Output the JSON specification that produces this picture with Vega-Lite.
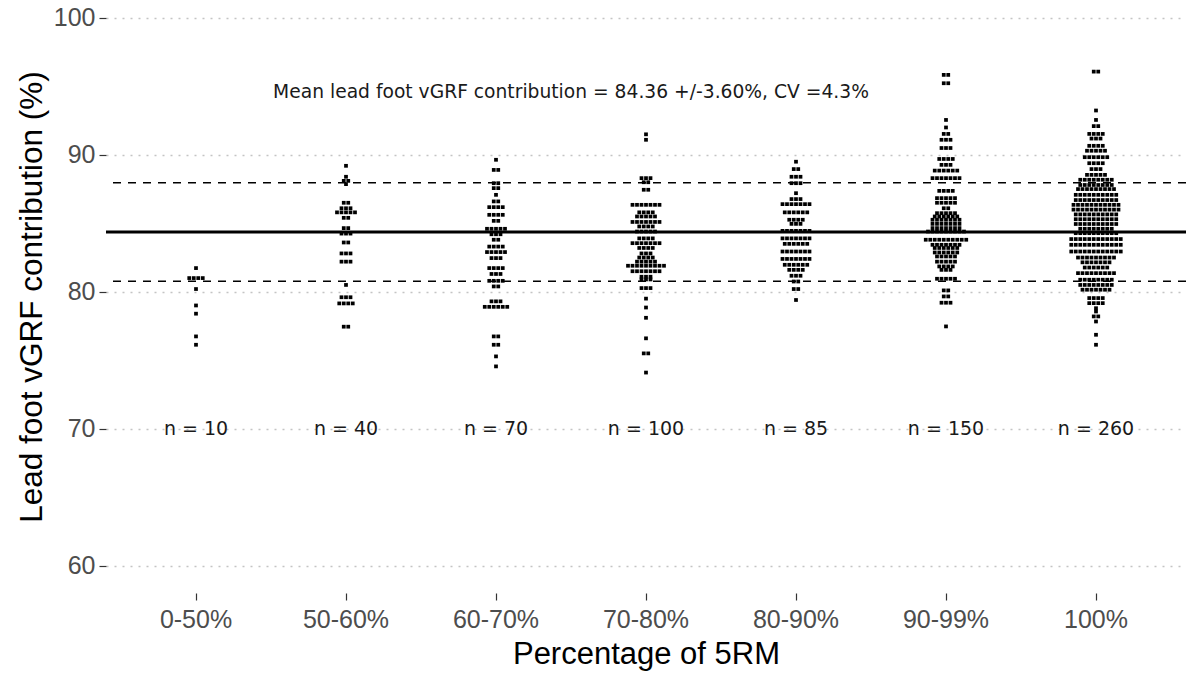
{
"$schema":"https://vega.github.io/schema/vega-lite/v6.json",
"width":1080,"height":593,
"autosize":"none",
"padding":{"left":106,"top":0,"right":0,"bottom":89},
"background":"white",
"config":{"view":{"stroke":null},"font":"Liberation Sans"},
"datasets":{"pts":[
{"g":"0-50%","v":81.73},{"g":"0-50%","v":81.0},{"g":"0-50%","v":81.0},{"g":"0-50%","v":81.0},{"g":"0-50%","v":81.0},{"g":"0-50%","v":80.2},{"g":"0-50%","v":79.0},{"g":"0-50%","v":78.4},{"g":"0-50%","v":76.74},{"g":"0-50%","v":76.13},
{"g":"50-60%","v":89.2},{"g":"50-60%","v":88.4},{"g":"50-60%","v":88.1},{"g":"50-60%","v":88.1},{"g":"50-60%","v":87.86},{"g":"50-60%","v":86.5},{"g":"50-60%","v":86.5},{"g":"50-60%","v":86.1},{"g":"50-60%","v":86.1},{"g":"50-60%","v":86.1},{"g":"50-60%","v":85.8},{"g":"50-60%","v":85.8},{"g":"50-60%","v":85.8},{"g":"50-60%","v":85.8},{"g":"50-60%","v":85.8},{"g":"50-60%","v":85.4},{"g":"50-60%","v":85.4},{"g":"50-60%","v":84.65},{"g":"50-60%","v":84.65},{"g":"50-60%","v":84.25},{"g":"50-60%","v":84.25},{"g":"50-60%","v":84.25},{"g":"50-60%","v":83.6},{"g":"50-60%","v":83.6},{"g":"50-60%","v":82.8},{"g":"50-60%","v":82.8},{"g":"50-60%","v":82.8},{"g":"50-60%","v":82.2},{"g":"50-60%","v":82.2},{"g":"50-60%","v":82.2},{"g":"50-60%","v":80.5},{"g":"50-60%","v":79.6},{"g":"50-60%","v":79.6},{"g":"50-60%","v":79.6},{"g":"50-60%","v":79.15},{"g":"50-60%","v":79.15},{"g":"50-60%","v":79.15},{"g":"50-60%","v":79.15},{"g":"50-60%","v":77.45},{"g":"50-60%","v":77.45},
{"g":"60-70%","v":89.64},{"g":"60-70%","v":88.9},{"g":"60-70%","v":88.9},{"g":"60-70%","v":87.93},{"g":"60-70%","v":87.93},{"g":"60-70%","v":87.57},{"g":"60-70%","v":87.57},{"g":"60-70%","v":87.08},{"g":"60-70%","v":86.6},{"g":"60-70%","v":86.6},{"g":"60-70%","v":86.18},{"g":"60-70%","v":86.18},{"g":"60-70%","v":86.18},{"g":"60-70%","v":86.18},{"g":"60-70%","v":85.62},{"g":"60-70%","v":85.62},{"g":"60-70%","v":85.62},{"g":"60-70%","v":85.62},{"g":"60-70%","v":85.18},{"g":"60-70%","v":85.18},{"g":"60-70%","v":84.6},{"g":"60-70%","v":84.6},{"g":"60-70%","v":84.6},{"g":"60-70%","v":84.6},{"g":"60-70%","v":84.6},{"g":"60-70%","v":84.2},{"g":"60-70%","v":84.2},{"g":"60-70%","v":84.2},{"g":"60-70%","v":83.8},{"g":"60-70%","v":83.8},{"g":"60-70%","v":83.3},{"g":"60-70%","v":83.3},{"g":"60-70%","v":83.3},{"g":"60-70%","v":83.3},{"g":"60-70%","v":82.9},{"g":"60-70%","v":82.9},{"g":"60-70%","v":82.9},{"g":"60-70%","v":82.9},{"g":"60-70%","v":82.9},{"g":"60-70%","v":82.46},{"g":"60-70%","v":82.46},{"g":"60-70%","v":82.46},{"g":"60-70%","v":81.73},{"g":"60-70%","v":81.73},{"g":"60-70%","v":81.73},{"g":"60-70%","v":81.73},{"g":"60-70%","v":81.3},{"g":"60-70%","v":81.3},{"g":"60-70%","v":81.3},{"g":"60-70%","v":80.8},{"g":"60-70%","v":80.8},{"g":"60-70%","v":80.8},{"g":"60-70%","v":80.8},{"g":"60-70%","v":80.39},{"g":"60-70%","v":80.39},{"g":"60-70%","v":79.3},{"g":"60-70%","v":79.3},{"g":"60-70%","v":79.3},{"g":"60-70%","v":78.9},{"g":"60-70%","v":78.9},{"g":"60-70%","v":78.9},{"g":"60-70%","v":78.9},{"g":"60-70%","v":78.9},{"g":"60-70%","v":78.9},{"g":"60-70%","v":76.74},{"g":"60-70%","v":76.74},{"g":"60-70%","v":76.13},{"g":"60-70%","v":76.13},{"g":"60-70%","v":75.28},{"g":"60-70%","v":74.55},
{"g":"70-80%","v":91.5},{"g":"70-80%","v":91.1},{"g":"70-80%","v":88.3},{"g":"70-80%","v":88.3},{"g":"70-80%","v":88.3},{"g":"70-80%","v":88.0},{"g":"70-80%","v":88.0},{"g":"70-80%","v":87.45},{"g":"70-80%","v":87.45},{"g":"70-80%","v":86.35},{"g":"70-80%","v":86.35},{"g":"70-80%","v":86.35},{"g":"70-80%","v":86.35},{"g":"70-80%","v":86.35},{"g":"70-80%","v":86.35},{"g":"70-80%","v":86.35},{"g":"70-80%","v":85.8},{"g":"70-80%","v":85.8},{"g":"70-80%","v":85.8},{"g":"70-80%","v":85.8},{"g":"70-80%","v":85.5},{"g":"70-80%","v":85.5},{"g":"70-80%","v":85.5},{"g":"70-80%","v":85.5},{"g":"70-80%","v":85.5},{"g":"70-80%","v":85.1},{"g":"70-80%","v":85.1},{"g":"70-80%","v":85.1},{"g":"70-80%","v":85.1},{"g":"70-80%","v":85.1},{"g":"70-80%","v":85.1},{"g":"70-80%","v":85.1},{"g":"70-80%","v":84.77},{"g":"70-80%","v":84.77},{"g":"70-80%","v":84.77},{"g":"70-80%","v":84.77},{"g":"70-80%","v":84.4},{"g":"70-80%","v":84.4},{"g":"70-80%","v":84.4},{"g":"70-80%","v":84.4},{"g":"70-80%","v":84.4},{"g":"70-80%","v":83.9},{"g":"70-80%","v":83.9},{"g":"70-80%","v":83.9},{"g":"70-80%","v":83.9},{"g":"70-80%","v":83.55},{"g":"70-80%","v":83.55},{"g":"70-80%","v":83.55},{"g":"70-80%","v":83.55},{"g":"70-80%","v":83.55},{"g":"70-80%","v":83.55},{"g":"70-80%","v":83.55},{"g":"70-80%","v":83.2},{"g":"70-80%","v":83.2},{"g":"70-80%","v":83.2},{"g":"70-80%","v":83.2},{"g":"70-80%","v":82.8},{"g":"70-80%","v":82.8},{"g":"70-80%","v":82.8},{"g":"70-80%","v":82.5},{"g":"70-80%","v":82.5},{"g":"70-80%","v":82.5},{"g":"70-80%","v":82.5},{"g":"70-80%","v":82.2},{"g":"70-80%","v":82.2},{"g":"70-80%","v":82.2},{"g":"70-80%","v":82.2},{"g":"70-80%","v":82.2},{"g":"70-80%","v":81.9},{"g":"70-80%","v":81.9},{"g":"70-80%","v":81.9},{"g":"70-80%","v":81.9},{"g":"70-80%","v":81.9},{"g":"70-80%","v":81.9},{"g":"70-80%","v":81.9},{"g":"70-80%","v":81.9},{"g":"70-80%","v":81.9},{"g":"70-80%","v":81.5},{"g":"70-80%","v":81.5},{"g":"70-80%","v":81.5},{"g":"70-80%","v":81.5},{"g":"70-80%","v":81.5},{"g":"70-80%","v":81.5},{"g":"70-80%","v":81.5},{"g":"70-80%","v":81.1},{"g":"70-80%","v":81.1},{"g":"70-80%","v":81.1},{"g":"70-80%","v":80.9},{"g":"70-80%","v":80.9},{"g":"70-80%","v":80.9},{"g":"70-80%","v":80.27},{"g":"70-80%","v":80.27},{"g":"70-80%","v":80.27},{"g":"70-80%","v":79.5},{"g":"70-80%","v":78.85},{"g":"70-80%","v":78.1},{"g":"70-80%","v":76.6},{"g":"70-80%","v":75.5},{"g":"70-80%","v":75.5},{"g":"70-80%","v":74.1},
{"g":"80-90%","v":89.5},{"g":"80-90%","v":88.96},{"g":"80-90%","v":88.96},{"g":"80-90%","v":88.4},{"g":"80-90%","v":88.4},{"g":"80-90%","v":88.4},{"g":"80-90%","v":87.93},{"g":"80-90%","v":87.93},{"g":"80-90%","v":87.93},{"g":"80-90%","v":87.2},{"g":"80-90%","v":86.77},{"g":"80-90%","v":86.77},{"g":"80-90%","v":86.77},{"g":"80-90%","v":86.4},{"g":"80-90%","v":86.4},{"g":"80-90%","v":86.4},{"g":"80-90%","v":86.4},{"g":"80-90%","v":86.4},{"g":"80-90%","v":86.4},{"g":"80-90%","v":86.4},{"g":"80-90%","v":85.8},{"g":"80-90%","v":85.8},{"g":"80-90%","v":85.8},{"g":"80-90%","v":85.8},{"g":"80-90%","v":85.8},{"g":"80-90%","v":85.8},{"g":"80-90%","v":85.26},{"g":"80-90%","v":85.26},{"g":"80-90%","v":85.26},{"g":"80-90%","v":85.26},{"g":"80-90%","v":84.96},{"g":"80-90%","v":84.96},{"g":"80-90%","v":84.96},{"g":"80-90%","v":84.45},{"g":"80-90%","v":84.45},{"g":"80-90%","v":84.45},{"g":"80-90%","v":84.45},{"g":"80-90%","v":84.45},{"g":"80-90%","v":84.45},{"g":"80-90%","v":84.45},{"g":"80-90%","v":83.9},{"g":"80-90%","v":83.9},{"g":"80-90%","v":83.9},{"g":"80-90%","v":83.9},{"g":"80-90%","v":83.9},{"g":"80-90%","v":83.9},{"g":"80-90%","v":83.9},{"g":"80-90%","v":83.5},{"g":"80-90%","v":83.5},{"g":"80-90%","v":83.5},{"g":"80-90%","v":83.5},{"g":"80-90%","v":83.5},{"g":"80-90%","v":83.5},{"g":"80-90%","v":82.94},{"g":"80-90%","v":82.94},{"g":"80-90%","v":82.94},{"g":"80-90%","v":82.94},{"g":"80-90%","v":82.94},{"g":"80-90%","v":82.94},{"g":"80-90%","v":82.94},{"g":"80-90%","v":82.4},{"g":"80-90%","v":82.4},{"g":"80-90%","v":82.4},{"g":"80-90%","v":82.4},{"g":"80-90%","v":82.4},{"g":"80-90%","v":82.4},{"g":"80-90%","v":82.4},{"g":"80-90%","v":81.97},{"g":"80-90%","v":81.97},{"g":"80-90%","v":81.97},{"g":"80-90%","v":81.97},{"g":"80-90%","v":81.97},{"g":"80-90%","v":81.97},{"g":"80-90%","v":81.6},{"g":"80-90%","v":81.6},{"g":"80-90%","v":81.6},{"g":"80-90%","v":81.6},{"g":"80-90%","v":81.17},{"g":"80-90%","v":81.17},{"g":"80-90%","v":81.17},{"g":"80-90%","v":80.75},{"g":"80-90%","v":80.75},{"g":"80-90%","v":80.2},{"g":"80-90%","v":80.2},{"g":"80-90%","v":79.4},
{"g":"90-99%","v":95.84},{"g":"90-99%","v":95.84},{"g":"90-99%","v":95.23},{"g":"90-99%","v":95.23},{"g":"90-99%","v":92.55},{"g":"90-99%","v":92.0},{"g":"90-99%","v":91.53},{"g":"90-99%","v":91.53},{"g":"90-99%","v":91.1},{"g":"90-99%","v":91.1},{"g":"90-99%","v":91.1},{"g":"90-99%","v":90.5},{"g":"90-99%","v":90.5},{"g":"90-99%","v":90.5},{"g":"90-99%","v":89.7},{"g":"90-99%","v":89.7},{"g":"90-99%","v":89.7},{"g":"90-99%","v":89.7},{"g":"90-99%","v":89.27},{"g":"90-99%","v":89.27},{"g":"90-99%","v":89.27},{"g":"90-99%","v":88.85},{"g":"90-99%","v":88.85},{"g":"90-99%","v":88.85},{"g":"90-99%","v":88.85},{"g":"90-99%","v":88.85},{"g":"90-99%","v":88.85},{"g":"90-99%","v":88.3},{"g":"90-99%","v":88.3},{"g":"90-99%","v":88.3},{"g":"90-99%","v":88.3},{"g":"90-99%","v":88.3},{"g":"90-99%","v":88.3},{"g":"90-99%","v":88.3},{"g":"90-99%","v":87.37},{"g":"90-99%","v":87.37},{"g":"90-99%","v":87.37},{"g":"90-99%","v":87.37},{"g":"90-99%","v":86.84},{"g":"90-99%","v":86.84},{"g":"90-99%","v":86.84},{"g":"90-99%","v":86.84},{"g":"90-99%","v":86.84},{"g":"90-99%","v":86.5},{"g":"90-99%","v":86.5},{"g":"90-99%","v":86.5},{"g":"90-99%","v":86.5},{"g":"90-99%","v":86.5},{"g":"90-99%","v":86.1},{"g":"90-99%","v":86.1},{"g":"90-99%","v":85.74},{"g":"90-99%","v":85.74},{"g":"90-99%","v":85.74},{"g":"90-99%","v":85.74},{"g":"90-99%","v":85.74},{"g":"90-99%","v":85.5},{"g":"90-99%","v":85.5},{"g":"90-99%","v":85.5},{"g":"90-99%","v":85.5},{"g":"90-99%","v":85.5},{"g":"90-99%","v":85.5},{"g":"90-99%","v":85.26},{"g":"90-99%","v":85.26},{"g":"90-99%","v":85.26},{"g":"90-99%","v":85.26},{"g":"90-99%","v":85.26},{"g":"90-99%","v":85.26},{"g":"90-99%","v":85.26},{"g":"90-99%","v":84.96},{"g":"90-99%","v":84.96},{"g":"90-99%","v":84.96},{"g":"90-99%","v":84.96},{"g":"90-99%","v":84.96},{"g":"90-99%","v":84.96},{"g":"90-99%","v":84.96},{"g":"90-99%","v":84.65},{"g":"90-99%","v":84.65},{"g":"90-99%","v":84.65},{"g":"90-99%","v":84.65},{"g":"90-99%","v":84.65},{"g":"90-99%","v":84.65},{"g":"90-99%","v":84.65},{"g":"90-99%","v":84.4},{"g":"90-99%","v":84.4},{"g":"90-99%","v":84.4},{"g":"90-99%","v":84.4},{"g":"90-99%","v":84.4},{"g":"90-99%","v":84.4},{"g":"90-99%","v":84.4},{"g":"90-99%","v":84.4},{"g":"90-99%","v":84.4},{"g":"90-99%","v":83.8},{"g":"90-99%","v":83.8},{"g":"90-99%","v":83.8},{"g":"90-99%","v":83.8},{"g":"90-99%","v":83.8},{"g":"90-99%","v":83.8},{"g":"90-99%","v":83.8},{"g":"90-99%","v":83.8},{"g":"90-99%","v":83.8},{"g":"90-99%","v":83.8},{"g":"90-99%","v":83.43},{"g":"90-99%","v":83.43},{"g":"90-99%","v":83.43},{"g":"90-99%","v":83.43},{"g":"90-99%","v":83.43},{"g":"90-99%","v":83.43},{"g":"90-99%","v":83.43},{"g":"90-99%","v":83.2},{"g":"90-99%","v":83.2},{"g":"90-99%","v":83.2},{"g":"90-99%","v":83.2},{"g":"90-99%","v":83.2},{"g":"90-99%","v":83.2},{"g":"90-99%","v":82.87},{"g":"90-99%","v":82.87},{"g":"90-99%","v":82.87},{"g":"90-99%","v":82.87},{"g":"90-99%","v":82.87},{"g":"90-99%","v":82.87},{"g":"90-99%","v":82.58},{"g":"90-99%","v":82.58},{"g":"90-99%","v":82.58},{"g":"90-99%","v":82.58},{"g":"90-99%","v":82.58},{"g":"90-99%","v":82.2},{"g":"90-99%","v":82.2},{"g":"90-99%","v":82.2},{"g":"90-99%","v":82.2},{"g":"90-99%","v":82.2},{"g":"90-99%","v":81.85},{"g":"90-99%","v":81.85},{"g":"90-99%","v":81.85},{"g":"90-99%","v":81.85},{"g":"90-99%","v":81.6},{"g":"90-99%","v":81.6},{"g":"90-99%","v":81.6},{"g":"90-99%","v":80.95},{"g":"90-99%","v":80.95},{"g":"90-99%","v":80.95},{"g":"90-99%","v":80.95},{"g":"90-99%","v":80.95},{"g":"90-99%","v":80.1},{"g":"90-99%","v":80.1},{"g":"90-99%","v":79.66},{"g":"90-99%","v":79.66},{"g":"90-99%","v":79.2},{"g":"90-99%","v":79.2},{"g":"90-99%","v":79.2},{"g":"90-99%","v":77.47},
{"g":"100%","v":96.08},{"g":"100%","v":96.08},{"g":"100%","v":93.24},{"g":"100%","v":92.55},{"g":"100%","v":92.1},{"g":"100%","v":92.1},{"g":"100%","v":91.53},{"g":"100%","v":91.53},{"g":"100%","v":91.53},{"g":"100%","v":91.53},{"g":"100%","v":91.19},{"g":"100%","v":91.19},{"g":"100%","v":91.19},{"g":"100%","v":90.66},{"g":"100%","v":90.66},{"g":"100%","v":90.66},{"g":"100%","v":90.66},{"g":"100%","v":90.3},{"g":"100%","v":90.3},{"g":"100%","v":90.3},{"g":"100%","v":90.3},{"g":"100%","v":90.3},{"g":"100%","v":89.83},{"g":"100%","v":89.83},{"g":"100%","v":89.83},{"g":"100%","v":89.83},{"g":"100%","v":89.83},{"g":"100%","v":89.83},{"g":"100%","v":89.39},{"g":"100%","v":89.39},{"g":"100%","v":89.39},{"g":"100%","v":89.39},{"g":"100%","v":88.96},{"g":"100%","v":88.96},{"g":"100%","v":88.96},{"g":"100%","v":88.54},{"g":"100%","v":88.54},{"g":"100%","v":88.54},{"g":"100%","v":88.54},{"g":"100%","v":88.54},{"g":"100%","v":88.18},{"g":"100%","v":88.18},{"g":"100%","v":88.18},{"g":"100%","v":88.18},{"g":"100%","v":88.18},{"g":"100%","v":88.18},{"g":"100%","v":88.18},{"g":"100%","v":88.18},{"g":"100%","v":87.8},{"g":"100%","v":87.8},{"g":"100%","v":87.8},{"g":"100%","v":87.8},{"g":"100%","v":87.8},{"g":"100%","v":87.8},{"g":"100%","v":87.8},{"g":"100%","v":87.8},{"g":"100%","v":87.5},{"g":"100%","v":87.5},{"g":"100%","v":87.5},{"g":"100%","v":87.5},{"g":"100%","v":87.5},{"g":"100%","v":87.5},{"g":"100%","v":87.5},{"g":"100%","v":87.5},{"g":"100%","v":87.5},{"g":"100%","v":87.08},{"g":"100%","v":87.08},{"g":"100%","v":87.08},{"g":"100%","v":87.08},{"g":"100%","v":87.08},{"g":"100%","v":87.08},{"g":"100%","v":87.08},{"g":"100%","v":87.08},{"g":"100%","v":87.08},{"g":"100%","v":87.08},{"g":"100%","v":86.7},{"g":"100%","v":86.7},{"g":"100%","v":86.7},{"g":"100%","v":86.7},{"g":"100%","v":86.7},{"g":"100%","v":86.7},{"g":"100%","v":86.7},{"g":"100%","v":86.7},{"g":"100%","v":86.7},{"g":"100%","v":86.7},{"g":"100%","v":86.35},{"g":"100%","v":86.35},{"g":"100%","v":86.35},{"g":"100%","v":86.35},{"g":"100%","v":86.35},{"g":"100%","v":86.35},{"g":"100%","v":86.35},{"g":"100%","v":86.35},{"g":"100%","v":86.35},{"g":"100%","v":86.35},{"g":"100%","v":86.35},{"g":"100%","v":86.0},{"g":"100%","v":86.0},{"g":"100%","v":86.0},{"g":"100%","v":86.0},{"g":"100%","v":86.0},{"g":"100%","v":86.0},{"g":"100%","v":86.0},{"g":"100%","v":86.0},{"g":"100%","v":86.0},{"g":"100%","v":86.0},{"g":"100%","v":86.0},{"g":"100%","v":85.65},{"g":"100%","v":85.65},{"g":"100%","v":85.65},{"g":"100%","v":85.65},{"g":"100%","v":85.65},{"g":"100%","v":85.65},{"g":"100%","v":85.65},{"g":"100%","v":85.65},{"g":"100%","v":85.65},{"g":"100%","v":85.65},{"g":"100%","v":85.3},{"g":"100%","v":85.3},{"g":"100%","v":85.3},{"g":"100%","v":85.3},{"g":"100%","v":85.3},{"g":"100%","v":85.3},{"g":"100%","v":85.3},{"g":"100%","v":85.3},{"g":"100%","v":85.3},{"g":"100%","v":85.3},{"g":"100%","v":84.95},{"g":"100%","v":84.95},{"g":"100%","v":84.95},{"g":"100%","v":84.95},{"g":"100%","v":84.95},{"g":"100%","v":84.95},{"g":"100%","v":84.95},{"g":"100%","v":84.95},{"g":"100%","v":84.95},{"g":"100%","v":84.95},{"g":"100%","v":84.6},{"g":"100%","v":84.6},{"g":"100%","v":84.6},{"g":"100%","v":84.6},{"g":"100%","v":84.6},{"g":"100%","v":84.6},{"g":"100%","v":84.6},{"g":"100%","v":84.6},{"g":"100%","v":84.28},{"g":"100%","v":84.28},{"g":"100%","v":84.28},{"g":"100%","v":84.28},{"g":"100%","v":84.28},{"g":"100%","v":84.28},{"g":"100%","v":84.28},{"g":"100%","v":84.28},{"g":"100%","v":84.28},{"g":"100%","v":84.28},{"g":"100%","v":83.85},{"g":"100%","v":83.85},{"g":"100%","v":83.85},{"g":"100%","v":83.85},{"g":"100%","v":83.85},{"g":"100%","v":83.85},{"g":"100%","v":83.85},{"g":"100%","v":83.85},{"g":"100%","v":83.85},{"g":"100%","v":83.85},{"g":"100%","v":83.85},{"g":"100%","v":83.85},{"g":"100%","v":83.43},{"g":"100%","v":83.43},{"g":"100%","v":83.43},{"g":"100%","v":83.43},{"g":"100%","v":83.43},{"g":"100%","v":83.43},{"g":"100%","v":83.43},{"g":"100%","v":83.43},{"g":"100%","v":83.43},{"g":"100%","v":83.43},{"g":"100%","v":83.43},{"g":"100%","v":83.43},{"g":"100%","v":82.94},{"g":"100%","v":82.94},{"g":"100%","v":82.94},{"g":"100%","v":82.94},{"g":"100%","v":82.94},{"g":"100%","v":82.94},{"g":"100%","v":82.94},{"g":"100%","v":82.94},{"g":"100%","v":82.94},{"g":"100%","v":82.94},{"g":"100%","v":82.94},{"g":"100%","v":82.94},{"g":"100%","v":82.5},{"g":"100%","v":82.5},{"g":"100%","v":82.5},{"g":"100%","v":82.5},{"g":"100%","v":82.5},{"g":"100%","v":82.5},{"g":"100%","v":82.5},{"g":"100%","v":82.5},{"g":"100%","v":82.5},{"g":"100%","v":82.15},{"g":"100%","v":82.15},{"g":"100%","v":82.15},{"g":"100%","v":82.15},{"g":"100%","v":82.15},{"g":"100%","v":82.15},{"g":"100%","v":82.15},{"g":"100%","v":81.77},{"g":"100%","v":81.77},{"g":"100%","v":81.77},{"g":"100%","v":81.77},{"g":"100%","v":81.77},{"g":"100%","v":81.77},{"g":"100%","v":81.36},{"g":"100%","v":81.36},{"g":"100%","v":81.36},{"g":"100%","v":81.36},{"g":"100%","v":81.36},{"g":"100%","v":81.36},{"g":"100%","v":81.36},{"g":"100%","v":81.36},{"g":"100%","v":81.36},{"g":"100%","v":80.88},{"g":"100%","v":80.88},{"g":"100%","v":80.88},{"g":"100%","v":80.88},{"g":"100%","v":80.88},{"g":"100%","v":80.88},{"g":"100%","v":80.88},{"g":"100%","v":80.88},{"g":"100%","v":80.5},{"g":"100%","v":80.5},{"g":"100%","v":80.5},{"g":"100%","v":80.5},{"g":"100%","v":80.5},{"g":"100%","v":80.5},{"g":"100%","v":80.5},{"g":"100%","v":80.5},{"g":"100%","v":80.15},{"g":"100%","v":80.15},{"g":"100%","v":80.15},{"g":"100%","v":80.15},{"g":"100%","v":80.15},{"g":"100%","v":80.15},{"g":"100%","v":80.15},{"g":"100%","v":79.54},{"g":"100%","v":79.54},{"g":"100%","v":79.54},{"g":"100%","v":79.54},{"g":"100%","v":79.17},{"g":"100%","v":79.17},{"g":"100%","v":79.17},{"g":"100%","v":79.17},{"g":"100%","v":78.8},{"g":"100%","v":78.56},{"g":"100%","v":78.2},{"g":"100%","v":78.2},{"g":"100%","v":77.83},{"g":"100%","v":76.86},{"g":"100%","v":76.13}
]},
"layer":[
{"data":{"values":[{}]},"mark":{"type":"rule","color":"black","strokeWidth":3},"encoding":{"y":{"datum":84.36,"type":"quantitative","scale":{"domain":[58,101.31],"nice":false,"zero":false},"axis":{"values":[60,70,80,90,100],"title":"Lead foot vGRF contribution (%)","titleFontSize":31.5,"titleFontWeight":"normal","titleColor":"black","titlePadding":5,"labelFontSize":25,"labelColor":"#4d4d4d","labelPadding":4,"tickSize":7,"tickColor":"#333333","tickWidth":1.2,"domain":false,"grid":true,"gridColor":"#c4c4c4","gridDash":[2,6],"gridWidth":1.5}}}},
{"data":{"values":[{}]},"mark":{"type":"rule","color":"black","strokeWidth":1.5,"strokeDash":[8,7]},"encoding":{"y":{"datum":87.96,"type":"quantitative"}}},
{"data":{"values":[{}]},"mark":{"type":"rule","color":"black","strokeWidth":1.5,"strokeDash":[8,7]},"encoding":{"y":{"datum":80.76,"type":"quantitative"}}},
{"data":{"name":"pts"},
 "transform":[
  {"window":[{"op":"row_number","as":"r"}],"groupby":["g","v"]},
  {"joinaggregate":[{"op":"count","as":"k"}],"groupby":["g","v"]},
  {"calculate":"datum.r - (datum.k + 1) / 2","as":"off"}
 ],
 "mark":{"type":"point","shape":"square","filled":true,"color":"black","size":14,"opacity":1},
 "encoding":{
  "x":{"field":"g","type":"nominal","sort":["0-50%","50-60%","60-70%","70-80%","80-90%","90-99%","100%"],"scale":{"paddingInner":0,"paddingOuter":0.1},"axis":{"title":"Percentage of 5RM","titleFontSize":31,"titleFontWeight":"normal","titleColor":"black","titlePadding":7,"labelFontSize":25,"labelColor":"#4d4d4d","labelAngle":0,"labelPadding":7,"tickSize":7,"tickColor":"#333333","tickWidth":1.2,"domain":false,"grid":false}},
  "xOffset":{"field":"off","type":"quantitative","scale":{"domain":[-16.67,16.67],"range":[0,150]}},
  "y":{"field":"v","type":"quantitative"}
 }},
{"data":{"name":"pts"},
 "transform":[
  {"aggregate":[{"op":"count","as":"n"}],"groupby":["g"]},
  {"calculate":"'n = ' + datum.n","as":"lab"}
 ],
 "mark":{"type":"text","font":"DejaVu Sans","fontSize":19,"color":"#1a1a1a","baseline":"middle","align":"center"},
 "encoding":{"x":{"field":"g","type":"nominal","sort":["0-50%","50-60%","60-70%","70-80%","80-90%","90-99%","100%"]},"y":{"datum":70,"type":"quantitative"},"text":{"field":"lab"}}},
{"data":{"values":[{"t":"Mean lead foot vGRF contribution =  84.36 +/-3.60%, CV =4.3%"}]},
 "mark":{"type":"text","font":"DejaVu Sans","fontSize":18.7,"color":"#1a1a1a","baseline":"middle","align":"center"},
 "encoding":{"x":{"datum":"70-80%","bandPosition":0},"y":{"datum":94.6,"type":"quantitative"},"text":{"field":"t"}}}
]
}
